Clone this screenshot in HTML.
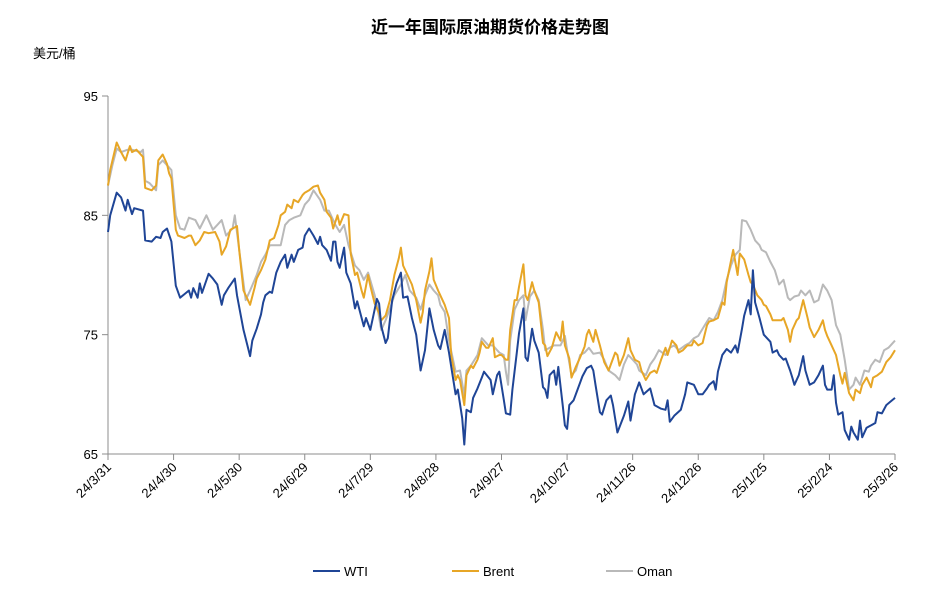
<!DOCTYPE html>
<html><head><meta charset="utf-8">
<style>
html,body{margin:0;padding:0;background:#fff;width:939px;height:602px;overflow:hidden;font-family:"Liberation Sans","Noto Sans CJK SC",sans-serif;}
svg{display:block}
</style></head>
<body>
<svg id="chart" width="939" height="602" viewBox="0 0 939 602">
<text x="490" y="33" text-anchor="middle" font-size="17" font-weight="bold" fill="#000" font-family="'Liberation Sans','Noto Sans CJK SC',sans-serif">近一年国际原油期货价格走势图</text>
<text x="33" y="58" font-size="13" fill="#000" font-family="'Liberation Sans','Noto Sans CJK SC',sans-serif">美元/桶</text>
<g id="axes"></g>
<g id="series"></g>
<g id="legend"></g>
</svg>
<script>
const yTicks=[65,75,85,95];
const xTickDays=[0,30,60,90,120,150,180,210,240,270,300,330,360];
const xTickLabels=["24/3/31","24/4/30","24/5/30","24/6/29","24/7/29","24/8/28","24/9/27","24/10/27","24/11/26","24/12/26","25/1/25","25/2/24","25/3/26"];
const seriesNames=["WTI","Brent","Oman"];
const wtiDays=[0,1,4,6,8,9,11,12,16,17,20,22,24,25,27,29,31,33,35,37,38,39,41,42,43,46,48,50,52,53,55,58,59,62,65,66,68,70,71,72,74,75,77,79,81,82,84,85,87,89,90,92,94,96,97,98,100,102,103,104,105,106,108,109,111,113,114,117,118,120,123,124,125,127,128,130,132,134,135,137,139,141,143,145,147,149,151,152,154,156,159,160,162,163,164,166,167,169,171,172,175,176,178,179,181,182,184,185,187,188,190,191,192,194,195,197,199,200,201,202,204,205,206,208,209,210,211,213,215,217,219,221,222,223,225,226,228,230,231,233,236,238,239,241,243,245,248,250,253,255,256,257,259,262,264,265,268,270,272,274,275,277,278,279,281,283,285,287,288,290,291,293,294,295,296,298,300,303,304,306,307,309,310,312,313,314,316,318,319,321,323,325,327,328,329,331,332,333,334,336,337,339,340,341,343,344,345,347,349,351,352,354,356,358,360];
const wtiValues=[83.6,85.0,86.9,86.5,85.4,86.3,85.1,85.6,85.4,82.9,82.8,83.2,83.1,83.6,83.9,82.8,79.1,78.1,78.4,78.7,78.1,78.9,78.1,79.3,78.5,80.1,79.7,79.2,77.5,78.3,78.9,79.7,78.3,75.4,73.2,74.5,75.5,76.7,77.7,78.3,78.6,78.5,80.2,81.1,81.7,80.6,81.7,81.1,82.1,82.3,83.3,83.9,83.3,82.6,83.2,82.5,82.1,81.2,82.8,82.8,81.1,80.6,82.3,80.2,79.3,77.2,77.8,75.7,76.4,75.4,78.0,77.6,75.7,74.3,74.7,77.9,79.3,80.2,78.1,78.2,76.4,75.0,72.0,73.7,77.2,75.4,74.1,73.8,75.4,73.5,70.0,70.4,68.0,65.8,68.7,68.5,69.7,70.5,71.4,71.9,71.2,70.0,71.6,71.9,69.6,68.4,68.3,70.4,73.5,75.1,77.2,73.1,72.8,75.5,74.5,73.5,70.6,70.4,69.7,71.6,72.0,70.8,72.3,69.1,67.4,67.1,69.1,69.5,70.5,71.5,72.2,72.4,72.0,70.8,68.5,68.3,69.5,69.9,69.1,66.8,68.2,69.4,67.8,70.0,71.0,70.0,70.5,69.1,68.8,68.7,69.5,67.7,68.2,68.7,70.0,71.0,70.8,70.0,70.0,70.5,70.8,71.1,70.4,71.9,73.3,73.8,73.5,74.1,73.5,75.5,76.6,77.9,76.7,80.4,77.7,76.4,75.0,74.4,73.5,73.7,73.3,72.9,73.0,72.0,71.4,70.8,71.6,73.2,72.0,70.8,71.0,71.6,72.4,70.8,70.4,70.4,71.6,69.3,68.3,68.5,67.0,66.2,67.3,66.8,66.2,67.8,66.4,67.2,67.4,67.6,68.5,68.4,69.1,69.4,69.7];
const brentDays=[0,1,4,6,8,10,11,13,16,17,20,22,23,25,27,28,29,31,32,35,37,38,40,42,44,46,49,51,52,54,56,59,60,62,65,67,68,70,72,74,76,78,79,81,82,84,85,87,89,90,92,94,96,97,99,100,102,103,105,106,108,110,111,113,114,116,117,119,120,122,124,125,127,129,131,133,134,135,137,139,141,143,144,145,147,148,149,151,152,154,156,157,159,160,161,163,164,166,167,169,170,171,173,174,176,177,179,180,182,183,184,186,187,188,190,191,192,194,195,197,199,200,201,203,205,207,208,209,211,212,214,216,218,219,220,222,223,225,227,229,230,232,233,234,236,238,239,241,243,244,246,248,250,251,253,255,256,258,260,261,263,265,267,268,270,272,274,275,277,279,281,282,283,285,286,288,289,291,293,294,295,297,299,300,301,303,304,306,308,309,311,312,313,315,316,318,320,321,323,325,327,328,329,331,333,335,336,337,339,341,342,344,345,347,349,350,352,354,356,358,360];
const brentValues=[87.5,88.8,91.1,90.3,89.6,90.8,90.3,90.5,89.9,87.3,87.1,87.5,89.6,90.1,89.3,88.5,88.1,83.8,83.3,83.1,83.3,83.3,82.5,82.9,83.6,83.5,83.6,82.8,81.7,82.4,83.8,84.1,82.1,78.7,77.5,78.9,79.7,80.4,81.3,82.9,83.1,84.2,85.0,85.3,85.9,85.6,86.3,86.1,86.7,86.9,87.1,87.4,87.5,86.9,86.3,85.3,84.8,83.9,85.0,84.2,85.1,85.0,81.8,80.0,80.2,78.7,78.1,80.0,79.1,77.6,76.8,76.2,76.6,77.9,80.0,81.4,82.3,80.8,80.0,79.2,77.9,76.0,76.9,78.7,80.3,81.4,79.6,78.7,78.3,77.5,76.4,73.3,71.2,71.6,71.2,69.1,71.6,72.4,72.2,72.9,73.5,74.4,73.9,73.9,74.7,73.1,73.3,73.3,72.9,72.9,75.4,77.9,77.9,79.0,80.9,78.3,77.9,79.4,78.7,77.7,74.3,74.1,73.2,73.9,75.2,74.5,76.1,74.1,73.0,71.4,72.3,73.1,74.0,75.0,75.4,74.4,75.4,74.1,72.7,72.0,72.5,73.5,73.3,72.4,73.3,74.7,73.7,72.9,72.7,72.0,71.2,71.8,72.0,71.8,72.9,73.9,73.3,74.5,74.1,73.5,73.7,74.1,74.1,74.5,74.1,74.3,75.8,76.1,76.2,76.4,77.7,77.5,79.4,81.2,82.1,80.0,81.8,81.3,80.0,79.4,79.2,78.3,77.9,77.5,77.4,76.7,76.2,76.2,76.2,76.4,75.4,74.4,75.4,76.2,76.4,77.9,76.4,75.6,74.8,75.4,76.2,75.4,74.9,74.1,73.3,71.6,70.9,71.8,70.1,69.5,70.4,70.1,70.8,71.4,70.6,71.4,71.6,71.9,72.7,73.1,73.7];
const omanDays=[0,2,4,6,9,11,15,16,17,19,22,23,25,27,29,31,33,35,37,40,42,45,48,50,52,54,57,58,60,63,65,68,70,72,74,76,79,81,83,85,88,90,92,94,97,99,101,104,106,108,110,113,115,117,119,122,123,125,127,129,131,134,136,138,141,143,145,147,149,151,152,154,156,159,161,163,164,166,169,171,174,176,179,181,182,183,184,186,188,190,191,193,195,197,199,200,202,204,207,209,210,212,214,216,218,220,222,225,227,229,232,234,236,238,240,242,243,246,248,250,252,255,257,259,261,264,266,268,270,273,275,277,279,281,283,285,287,289,290,292,294,296,298,299,301,303,305,307,309,311,312,314,316,317,319,321,323,325,327,329,331,333,335,337,339,341,342,344,346,348,349,351,353,355,357,358,360];
const omanValues=[87.5,89.2,90.6,90.3,90.5,90.5,90.3,90.5,87.9,87.7,87.1,89.2,89.6,89.2,88.8,85.0,83.9,83.8,84.8,84.6,83.9,85.0,83.8,84.2,84.6,83.3,83.9,85.0,82.1,77.9,78.7,80.0,81.1,81.7,82.5,82.5,82.5,84.2,84.6,84.8,85.0,85.9,86.3,87.1,86.3,85.4,85.4,84.2,83.6,84.2,82.5,80.8,80.4,79.6,80.2,78.3,77.5,75.4,76.2,77.2,78.3,79.2,80.0,78.7,78.1,77.1,78.3,79.2,78.7,78.3,77.5,76.9,74.5,71.9,72.0,69.9,72.0,72.4,73.3,74.7,74.1,74.1,73.5,73.3,71.9,70.8,74.5,77.1,77.9,78.3,76.2,78.2,78.7,77.9,75.4,73.7,73.9,74.1,74.1,74.9,73.7,71.6,72.0,73.3,73.5,73.9,73.4,73.5,72.9,72.0,71.6,71.2,72.5,73.3,72.9,72.5,72.0,71.6,72.5,73.0,73.7,73.3,73.9,74.1,73.7,74.1,74.3,74.7,74.9,75.8,76.4,76.2,76.9,77.9,79.6,80.8,81.7,82.1,84.6,84.5,83.8,82.9,82.5,82.1,81.9,81.1,80.4,79.2,79.6,78.1,77.9,78.2,78.3,78.7,78.3,78.7,77.7,77.9,79.2,78.7,77.9,75.8,75.0,72.9,70.4,70.8,71.4,70.8,72.0,71.9,72.4,72.9,72.7,73.7,73.9,74.1,74.5];

const NS="http://www.w3.org/2000/svg";
const L=108,R=895,T=96,B=454,yMin=65,yMax=95,dMin=0,dMax=360;
function xs(d){return L+(d-dMin)/(dMax-dMin)*(R-L);}
function ys(v){return B-(v-yMin)/(yMax-yMin)*(B-T);}
function mk(tag,attrs,parent){const e=document.createElementNS(NS,tag);for(const k in attrs)e.setAttribute(k,attrs[k]);parent.appendChild(e);return e;}
const axes=document.getElementById('axes');
const yAxis=mk('line',{x1:L,y1:T,x2:L,y2:B,stroke:'#8c8c8c','stroke-width':1},axes);


const xAxis=mk('line',{x1:L,y1:B,x2:R,y2:B,stroke:'#8c8c8c','stroke-width':1},axes);


yTicks.forEach(v=>{
  const y=ys(v);
  const t=mk('line',{x1:L-6,y1:y,x2:L,y2:y,stroke:'#8c8c8c','stroke-width':1},axes);
  
  
  const tx=mk('text',{x:L-10,y:y+5,'text-anchor':'end','font-size':13,fill:'#000'},axes);
  tx.textContent=v;
  
  
});
xTickDays.forEach((d,i)=>{
  const x=xs(d);
  const t=mk('line',{x1:x,y1:B,x2:x,y2:B+6,stroke:'#8c8c8c','stroke-width':1},axes);
  
  
  const tx=mk('text',{x:x+4,y:B+14,'text-anchor':'end','font-size':13,fill:'#000',transform:'rotate(-45 '+(x+4)+' '+(B+14)+')'},axes);
  tx.textContent=xTickLabels[i];
  
  
});
const colors=['#1f4596','#e7a626','#b9b9b9'];
const allDays=[wtiDays,brentDays,omanDays];
const allVals=[wtiValues,brentValues,omanValues];
const sg=document.getElementById('series');
[2,1,0].forEach(i=>{
  const pts=allDays[i].map((d,j)=>xs(d).toFixed(1)+','+ys(allVals[i][j]).toFixed(1)).join(' ');
  const p=mk('polyline',{points:pts,fill:'none',stroke:colors[i],'stroke-width':2,'stroke-linejoin':'round'},sg);
  
  
});
const lg=document.getElementById('legend');
const legX=[313,452,606];
seriesNames.forEach((n,i)=>{
  const g=mk('g',{},lg);
  
  
  mk('line',{x1:legX[i],y1:571,x2:legX[i]+27,y2:571,stroke:colors[i],'stroke-width':2},g);
  const t=mk('text',{x:legX[i]+31,y:576,'font-size':13,fill:'#000'},g);
  t.textContent=n;
});
</script>
</body></html>
